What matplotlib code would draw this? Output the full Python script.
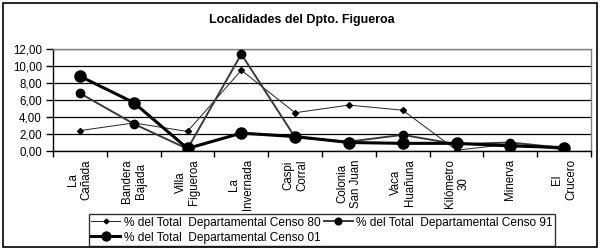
import matplotlib
matplotlib.use("Agg")
import matplotlib.pyplot as plt
from matplotlib.patches import Rectangle
from matplotlib.ticker import FixedLocator, FuncFormatter

categories = ["La\nCañada", "Bandera\nBajada", "Villa\nFigueroa", "La\nInvernada",
              "Caspi\nCorral", "Colonia\nSan Juan", "Vaca\nHuañuna", "Kilómetro\n30",
              "Minerva", "El\nCrucero"]
censo80 = [2.4, 3.3, 2.3, 9.5, 4.5, 5.4, 4.8, 0.1, 0.8, 0.15]
censo91 = [6.8, 3.2, 0.25, 11.4, 1.6, 1.1, 1.9, 0.8, 1.0, 0.35]
censo01 = [8.8, 5.7, 0.3, 2.1, 1.7, 1.0, 0.9, 0.9, 0.6, 0.4]
labels = ["% del Total  Departamental Censo 80",
          "% del Total  Departamental Censo 91",
          "% del Total  Departamental Censo 01"]
title = "Localidades del Dpto. Figueroa"
yticks = [0, 2, 4, 6, 8, 10, 12]

plt.rcParams['font.family'] = ['Liberation Sans', 'DejaVu Sans']

fig = plt.figure(figsize=(6.04, 2.52), dpi=100)
fig.patch.set_facecolor('white')

# outer chart border
fig.patches.append(Rectangle((3/604, 1 - 247/252), 594/604, 244/252,
                             transform=fig.transFigure, fill=False,
                             edgecolor='black', linewidth=1.2))

ax = fig.add_axes([53/604, 1 - 151/252, 538/604, 102/252])
x = list(range(len(categories)))

h80, = ax.plot(x, censo80, color='#222222', lw=0.7, marker='D', ms=3,
               mfc='black', mec='black', zorder=3)
h91, = ax.plot(x, censo91, color='#3a3a3a', lw=1.4, marker='o', ms=6,
               mfc='black', mec='black', zorder=4)
h01, = ax.plot(x, censo01, color='black', lw=2.2, marker='o', ms=8,
               mfc='black', mec='black', zorder=5)

ax.set_xlim(-0.5, len(categories) - 0.5)
ax.set_ylim(0, 12)
ax.set_yticks(yticks)
ax.yaxis.set_major_formatter(FuncFormatter(lambda v, p: f"{v:.2f}".replace('.', ',')))
ax.tick_params(axis='y', direction='out', length=5, width=1, labelsize=8.3, pad=3)
ax.grid(axis='y', color='black', lw=0.9)
ax.set_axisbelow(True)

ax.xaxis.set_major_locator(FixedLocator(x))
ax.set_xticklabels(categories, rotation=90, fontsize=8.3, va='top', ha='center',
                   multialignment='center')
ax.tick_params(axis='x', which='major', length=0, pad=6)
ax.xaxis.set_minor_locator(FixedLocator([i - 0.5 for i in range(len(categories) + 1)]))
ax.tick_params(axis='x', which='minor', direction='out', length=4, width=1)

for s in ['top', 'right']:
    ax.spines[s].set_color('#808080')
    ax.spines[s].set_linewidth(1)
for s in ['left', 'bottom']:
    ax.spines[s].set_color('black')
    ax.spines[s].set_linewidth(1)

fig.text(302/604, 1 - 20/252, title, ha='center', va='center',
         fontsize=9, fontweight='bold')

leg = fig.legend([h80, h01, h91], [labels[0], labels[2], labels[1]], ncol=2,
                 loc='lower left', bbox_to_anchor=(89/604, 1 - 246/252),
                 fontsize=8.6, frameon=True, fancybox=False, edgecolor='black',
                 handlelength=2.4, handletextpad=0.3, columnspacing=0.3,
                 borderpad=0.2, labelspacing=0.25, borderaxespad=0,
                 markerscale=0.8)
leg.get_frame().set_linewidth(1)

fig.savefig("out.png", dpi=100)
